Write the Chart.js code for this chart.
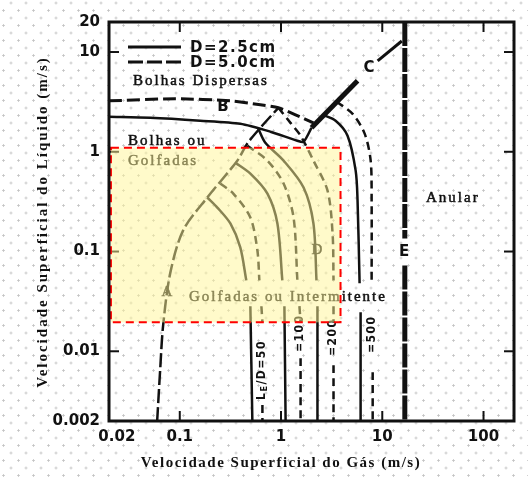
<!DOCTYPE html>
<html><head><meta charset="utf-8">
<script src="https://cdn.jsdelivr.net/npm/chart.js@4.4.1/dist/chart.umd.min.js"></script>
<style>
html,body{margin:0;padding:0;background-color:#fff;}
body{width:528px;height:481px;overflow:hidden;
background-image:radial-gradient(circle,#c4c4c4 0,#c4c4c4 0.9px,rgba(255,255,255,0) 1.4px),radial-gradient(circle,#c4c4c4 0,#c4c4c4 0.9px,rgba(255,255,255,0) 1.4px);
background-size:15px 15px;background-position:3.5px -4.5px,11px 3px;}
canvas{display:block}
</style></head><body>
<canvas id="c" width="528" height="481"></canvas>
<script>
// ---- axes / ticks ----
const xTickValues = [0.02, 0.1, 1, 10, 100];
const xTickLabels = ['   0.02', '0.1', '1', '10', '100'];
const yTickValues = [0.002, 0.01, 0.1, 1, 10, 20];
const yTickLabels = ['0.002', '0.01', '0.1', '1', '10', '20'];
const majorX = [0.1, 1, 10, 100];
const majorY = [0.01, 0.1, 1, 10];

// ---- highlighted region (gas, liquid velocities) ----
const regionX = [0.0209, 3.87];
const regionY = [0.0195, 1.10];

// ---- transition curves: [U_GS (m/s), U_LS (m/s)], null = break ----
const curveB25 = [[0.02,2.24],[0.051,2.19],[0.159,2.05],[0.396,1.91],[0.786,1.59],[1.45,1.29],[1.67,1.26],[2.0,1.74]];
const curveB50 = [[0.02,3.24],[0.090,3.40],[0.316,3.24],[0.625,2.96],[0.942,2.76],[1.39,2.35],[2.09,1.95]];
const curveA = [[0.0598,0.002],[0.064,0.00647],[0.0685,0.0182],[0.0804,0.0604],[0.108,0.163],[0.187,0.348],[0.370,0.815],[0.465,1.21],[0.625,1.74],[0.942,2.76]];
const curveC = [[2.0,1.74],[5.70,5.14]];
const curveCUpper = [[9.0,8.15],[15.6,12.9]];
const curveE = [[16.7,20],[16.7,0.135],null,[16.7,0.0726],[16.7,0.002]];
const curveD50s = [[0.187,0.348],[0.235,0.276],[0.316,0.191],[0.396,0.110],[0.454,0.0514],null,[0.498,0.0283],[0.521,0.002]];
const curveD50d = [[0.251,0.480],[0.338,0.381],[0.498,0.219],[0.584,0.103],[0.611,0.0514],null,[0.640,0.0283],[0.655,0.0195],null,[0.655,0.0029],[0.655,0.002]];
const curveD100s = [[0.354,0.778],[0.498,0.604],[0.734,0.381],[0.921,0.191],[1.03,0.0514],null,[1.08,0.0283],[1.11,0.002]];
const curveD100d = [[0.465,1.15],[0.734,0.815],[1.06,0.480],[1.33,0.219],[1.45,0.0514],null,[1.52,0.0283],[1.56,0.0195],null,[1.56,0.00853],[1.56,0.002]];
const curveD200s = [[0.597,1.70],[0.70,1.23],[1.06,0.815],[1.67,0.438],[2.09,0.191],[2.24,0.0514],null,[2.29,0.0283],[2.29,0.002]];
const curveD200d = [[0.942,2.76],[1.24,1.95],[1.56,1.45],[2.09,0.815],[2.88,0.408],[3.23,0.152],[3.30,0.0514],null,[3.30,0.0283],[3.30,0.0195],null,[3.30,0.00726],[3.30,0.002]];
const curveD500s = [[2.57,2.35],[3.46,2.05],[4.54,1.45],[5.46,0.647],[5.70,0.324],[5.97,0.048],null,[6.11,0.0246],[6.11,0.002]];
const curveD500d = [[3.54,3.17],[5.09,2.40],[6.70,1.52],[7.68,0.815],[7.85,0.324],[7.85,0.048],null,[8.04,0.00618],[8.04,0.002]];

const toPts = arr => arr.map(p => p ? {x:p[0], y:p[1]} : {x:null, y:null});
function ds(label, arr, width, dash, tension){
  return {label, data: toPts(arr), showLine:true, borderColor:'#111', borderWidth:width,
    borderDash:dash, pointRadius:0, pointHoverRadius:0, tension:tension, fill:false, spanGaps:false, borderCapStyle:'butt'};
}

const datasets = [
  ds('B D=2.5cm', curveB25, 2.5, [], 0.25),
  ds('B D=5.0cm', curveB50, 3, [13,5], 0.25),
  ds('A', curveA, 2.5, [14,4], 0.3),
  ds('C', curveC, 5, [], 0),
  ds('C upper', curveCUpper, 3, [], 0),
  ds('E', curveE, 5, [24,2], 0),
  ds('LE/D=50 2.5cm', curveD50s, 2.5, [], 0.3),
  ds('LE/D=50 5.0cm', curveD50d, 2.5, [8,5], 0.3),
  ds('LE/D=100 2.5cm', curveD100s, 2.5, [], 0.3),
  ds('LE/D=100 5.0cm', curveD100d, 2.5, [8,5], 0.3),
  ds('LE/D=200 2.5cm', curveD200s, 2.5, [], 0.3),
  ds('LE/D=200 5.0cm', curveD200d, 2.5, [8,5], 0.3),
  ds('LE/D=500 2.5cm', curveD500s, 2.5, [], 0.3),
  ds('LE/D=500 5.0cm', curveD500d, 2.5, [8,5], 0.3)
];

const SERIF = "'Liberation Serif', 'DejaVu Serif', serif";
const SANS = "'DejaVu Sans', sans-serif";
const COND = "'DejaVu Sans Condensed', 'Liberation Sans Narrow', 'DejaVu Sans', sans-serif";

const decor = {
  id:'decor',
  afterDatasetsDraw(chart){
    const {ctx, chartArea:a, scales:{x, y}} = chart;
    ctx.save();
    const line = (x1,y1,x2,y2) => { ctx.beginPath(); ctx.moveTo(x1,y1); ctx.lineTo(x2,y2); ctx.stroke(); };
    const txt = (s, px, py, font, align, ls, heavy) => {
      ctx.font = font; ctx.letterSpacing = ls || '0px'; ctx.textAlign = align || 'left';
      ctx.textBaseline = 'middle'; ctx.fillStyle = '#111'; ctx.fillText(s, px, py);
      if (heavy) { ctx.save(); ctx.setLineDash([]); ctx.strokeStyle = '#111'; ctx.lineWidth = heavy; ctx.strokeText(s, px, py); ctx.restore(); }
    };
    // inward ticks
    ctx.strokeStyle = '#111'; ctx.lineWidth = 2; ctx.setLineDash([]);
    majorX.forEach(v => { const px = x.getPixelForValue(v); line(px, a.bottom, px, a.bottom-10); line(px, a.top, px, a.top+10); });
    majorY.forEach(v => { const py = y.getPixelForValue(v); line(a.left, py, a.left+10, py); line(a.right, py, a.right-10, py); });
    // legend samples
    ctx.lineWidth = 3;
    line(128, 47, 181, 47);
    ctx.setLineDash([15,4]); line(128, 62, 181, 62); ctx.setLineDash([]);
    txt('D=2.5cm', 190, 48, 'bold 15px ' + SANS, 'left', '1.5px');
    txt('D=5.0cm', 190, 63, 'bold 15px ' + SANS, 'left', '1.5px');
    // region labels
    const sf = '15px ' + SERIF;
    txt('Bolhas Dispersas', 133, 81, sf, 'left', '2px', 0.5);
    txt('Bolhas ou', 128, 141, sf, 'left', '2px', 0.5);
    txt('Golfadas', 128, 161, sf, 'left', '2px', 0.5);
    txt('Anular', 426, 198, sf, 'left', '2px', 0.5);
    txt('Golfadas ou Intermitente', 189, 297, sf, 'left', '2px', 0.5);
    txt('A', 167, 292, sf, 'center', '0px', 0.5);
    txt('D', 317, 250, sf, 'center', '0px', 0.5);
    txt('B', 223, 107, 'bold 15px ' + SANS, 'center');
    txt('C', 369, 68, 'bold 15px ' + SANS, 'center');
    txt('E', 404, 252, 'bold 15px ' + SANS, 'center');
    // rotated L_E/D labels
    const vlab = (parts, px, pyBottom) => {
      ctx.save(); ctx.translate(px, pyBottom); ctx.rotate(-Math.PI/2);
      ctx.textAlign = 'left'; ctx.textBaseline = 'middle'; ctx.fillStyle = '#111'; ctx.letterSpacing = '1.5px';
      let cx = 0;
      parts.forEach(p => {
        ctx.font = p.sub ? 'bold 9px ' + COND : 'bold 12px ' + COND;
        ctx.fillText(p.t, cx, p.sub ? 3 : 0);
        cx += ctx.measureText(p.t).width;
      });
      ctx.restore();
    };
    vlab([{t:'L'},{t:'E',sub:true},{t:'/D=50'}], 262, 400);
    vlab([{t:'=100'}], 300, 352);
    vlab([{t:'=200'}], 333, 356);
    vlab([{t:'=500'}], 372, 353);
    // axis titles
    txt('Velocidade Superficial do Gás (m/s)', 281, 463, 'bold 15px ' + SERIF, 'center', '1.5px');
    ctx.save(); ctx.translate(43, 222); ctx.rotate(-Math.PI/2);
    txt('Velocidade Superficial do Líquido (m/s)', 0, 0, 'bold 15px ' + SERIF, 'center', '2px');
    ctx.restore();
    // highlighted region overlay
    const rx0 = x.getPixelForValue(regionX[0]), rx1 = x.getPixelForValue(regionX[1]);
    const ry0 = y.getPixelForValue(regionY[1]), ry1 = y.getPixelForValue(regionY[0]);
    ctx.fillStyle = 'rgba(255,245,150,0.5)';
    ctx.fillRect(rx0, ry0, rx1-rx0, ry1-ry0);
    ctx.setLineDash([8,5]); ctx.strokeStyle = '#ff0000'; ctx.lineWidth = 2;
    ctx.strokeRect(rx0, ry0, rx1-rx0, ry1-ry0);
    // frame
    ctx.setLineDash([]); ctx.strokeStyle = '#111'; ctx.lineWidth = 3;
    ctx.strokeRect(a.left, a.top, a.right-a.left, a.bottom-a.top);
    ctx.restore();
  }
};

const tickFont = {family:'DejaVu Sans', weight:'bold', size:15};
new Chart(document.getElementById('c'), {
  type:'scatter',
  data:{datasets},
  options:{
    responsive:false, animation:false, devicePixelRatio:1,
    layout:{padding:{top:22, right:14, left:0, bottom:0}},
    plugins:{legend:{display:false}, tooltip:{enabled:false}},
    events:[],
    scales:{
      x:{type:'logarithmic', min:0.02, max:200,
        afterBuildTicks: s => { s.ticks = xTickValues.map(v => ({value:v})); },
        afterFit: s => { s.height = 60; },
        grid:{display:false, drawTicks:false}, border:{display:false},
        ticks:{padding:7, font:tickFont, color:'#111', autoSkip:false, maxRotation:0, minRotation:0,
          callback:(v,i) => xTickLabels[i]}},
      y:{type:'logarithmic', min:0.002, max:20,
        afterBuildTicks: s => { s.ticks = yTickValues.map(v => ({value:v})); },
        afterFit: s => { s.width = 109; },
        grid:{display:false, drawTicks:false}, border:{display:false},
        ticks:{padding:9, font:tickFont, color:'#111', autoSkip:false,
          callback:(v,i) => yTickLabels[i]}}
    }
  },
  plugins:[decor]
});
</script></body></html>
